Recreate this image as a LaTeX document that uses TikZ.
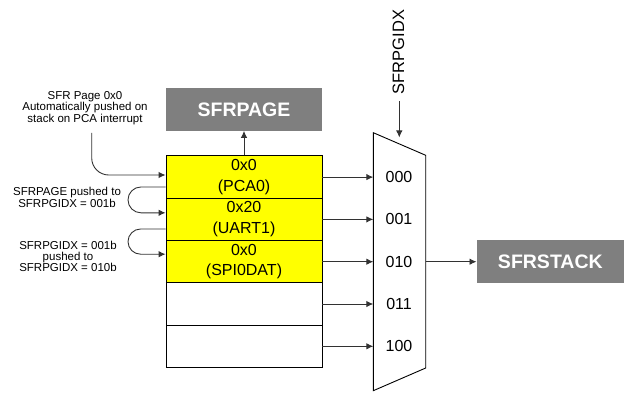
\documentclass[tikz,border=0pt]{standalone}
\usepackage{fontspec}
\setmainfont{Liberation Sans}
\usetikzlibrary{arrows.meta}
\definecolor{boxgray}{RGB}{127,127,127}
\definecolor{cellyellow}{RGB}{255,255,0}
\definecolor{linegray}{RGB}{50,50,50}
\begin{document}
\begin{tikzpicture}[x=1pt,y=-1pt,
  conn/.style={draw=linegray,line width=0.9pt,-{Latex[length=7pt,width=6.5pt]}},
  cell/.style={draw=black,line width=0.9pt,minimum width=156pt,minimum height=42.3pt,inner sep=0pt,align=center,
    font=\fontsize{16}{20.7}\selectfont},
  ycell/.style={cell,fill=cellyellow},
  wcell/.style={cell,fill=white},
  graybox/.style={fill=boxgray,text=white,inner sep=0pt,font=\fontsize{19.5}{22}\selectfont\bfseries},
  note/.style={align=center,inner sep=0pt,font=\fontsize{11.5}{11.3}\selectfont},
  muxlbl/.style={inner sep=0pt,font=\fontsize{16}{18}\selectfont}]
\useasboundingbox (0,0) rectangle (624,393);

% stack cells
\node[ycell] (c0) at (244,177.1) {0x0\\(PCA0)};
\node[ycell] (c1) at (244,219.4) {0x20\\(UART1)};
\node[ycell] (c2) at (244,261.7) {0x0\\(SPI0DAT)};
\node[wcell] (c3) at (244,304.0) {};
\node[wcell] (c4) at (244,346.3) {};

% SFRPAGE box
\node[graybox,minimum width=156pt,minimum height=42.4pt] (sfrpage) at (244,109.5) {SFRPAGE};
\draw[conn] (c0.north) -- (sfrpage.south);

% mux
\coordinate (mtl) at (373.3,132.7);
\coordinate (mtr) at (425.7,155.3);
\coordinate (mbr) at (425.7,368);
\coordinate (mbl) at (373.3,390.7);
\draw[line width=0.9pt,draw=black,fill=white] (mtl) -- (mtr) -- (mbr) -- (mbl) -- cycle;

\node[muxlbl] (m0) at (399,177.1) {000};
\node[muxlbl] (m1) at (399,219.4) {001};
\node[muxlbl] (m2) at (399,261.7) {010};
\node[muxlbl] (m3) at (399,304.0) {011};
\node[muxlbl] (m4) at (399,346.3) {100};

\foreach \i in {0,...,4}{
  \coordinate (in\i) at (373.3,{177.1+42.3*\i});
  \draw[conn] (c\i.east |- in\i) -- (in\i);
}

% SFRPGIDX select
\node[rotate=90,inner sep=0pt,font=\fontsize{16.5}{18}\selectfont] (sel) at (398.5,52) {SFRPGIDX};
\coordinate (selend) at (399.3,137.5);
\draw[conn] (399.3,101.5) -- (selend);

% SFRSTACK output
\node[graybox,minimum width=147.3pt,minimum height=42.7pt] (sfrstack) at (550.35,261.35) {SFRSTACK};
\coordinate (mout) at (425.7,261.7);
\draw[conn] (mout) -- (sfrstack.west |- mout);

% annotations
\node[note] (n0) at (85,108) {SFR Page 0x0\\Automatically pushed on\\stack on PCA interrupt};
\coordinate (n0s) at (91.7,133);
\draw[conn,rounded corners=17pt] (n0s) -- (91.7,175) -- (c0.west |- 0,175);

\node[note] (n1) at (67,197.5) {SFRPAGE pushed to\\SFRPGIDX = 001b};
\draw[conn,rounded corners=12.9pt] (c0.west |- 0,187) -- (128,187) -- (128,212.8) -- (c1.west |- 0,212.8);

\node[note] (n2) at (68,256.5) {SFRPGIDX = 001b\\pushed to\\SFRPGIDX = 010b};
\draw[conn,rounded corners=12.6pt] (c1.west |- 0,229) -- (128,229) -- (128,254.2) -- (c2.west |- 0,254.2);
\end{tikzpicture}
\end{document}
